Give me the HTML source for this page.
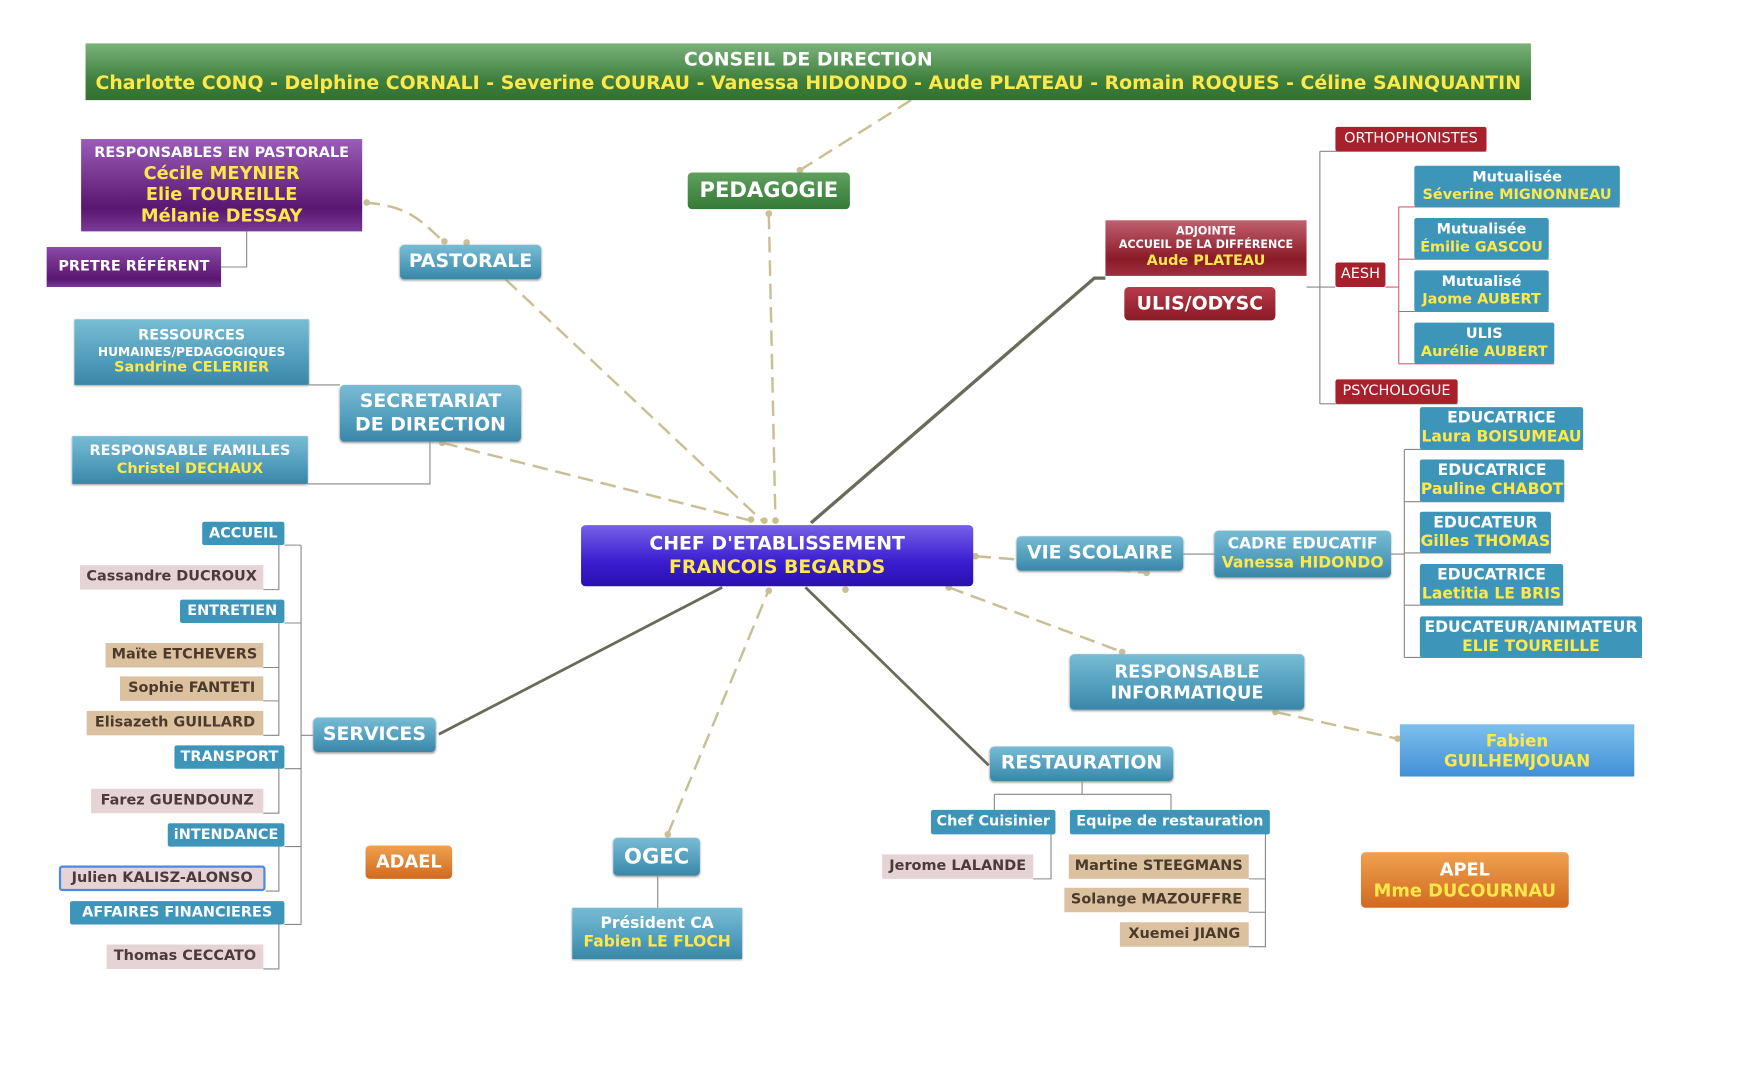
<!DOCTYPE html>
<html><head><meta charset="utf-8"><style>
html,body{margin:0;padding:0;background:#fff;overflow:hidden}
#w{position:absolute;left:0;top:0;width:1568px;height:960px;transform:scale(1.111,1.1125);transform-origin:0 0;font-family:"DejaVu Sans","Liberation Sans",sans-serif;font-weight:bold}
.b{position:absolute;box-sizing:border-box;color:#fff;text-align:center;display:flex;flex-direction:column;justify-content:center;align-items:center;line-height:1.2;border-radius:4px;white-space:nowrap}
.bl{background:linear-gradient(#78bcd4,#4a98b8 70%,#3a86a6);box-shadow:0 1px 2px #999}
.sb{background:#3e95ba;border-radius:2px}
.pk{background:#e6d3d6;color:#4a3a3a;border-radius:0}
.tn{background:#dcc1a0;color:#4a3a2a;border-radius:0}
.rd{background:#a8202c;border-radius:2px;font-weight:normal}
.y{color:#ffe84a}
svg{position:absolute;left:0;top:0}
</style></head><body><div id="w">
<svg width="1568" height="960">
<g stroke="#c9bf95" stroke-width="2.2" stroke-dasharray="14,7" fill="none">
<path d="M820 90 L720 153"/><path d="M692 192 L698 470"/><path d="M455 251 L688 470"/><path d="M398 398 L676 468"/>
<path d="M328 182 C370 185 380 200 400 218"/><path d="M601 750 L692 530"/><path d="M854 528 L1010 586"/>
<path d="M1148 640 L1258 664"/><path d="M878 500 C950 505 1000 512 1032 515"/>
</g>
<g fill="#c9bf95"><circle cx="720" cy="153" r="3"/><circle cx="692" cy="192" r="3"/><circle cx="698" cy="468" r="3"/><circle cx="688" cy="468" r="3"/><circle cx="676" cy="467" r="3"/><circle cx="398" cy="398" r="3"/><circle cx="330" cy="182" r="3"/><circle cx="400" cy="217" r="3"/><circle cx="420" cy="218" r="3"/><circle cx="601" cy="750" r="3"/><circle cx="692" cy="531" r="3"/><circle cx="854" cy="528" r="3"/><circle cx="1010" cy="586" r="3"/><circle cx="1148" cy="640" r="3"/><circle cx="1258" cy="664" r="3"/><circle cx="878" cy="500" r="3"/><circle cx="1032" cy="515" r="3"/><circle cx="761" cy="530" r="3"/></g>
<g stroke="#6b6a5a" fill="none">
<path d="M730 470 L985 250 L995 250" stroke-width="3"/><path d="M650 528 L395 660" stroke-width="2.5"/><path d="M725 528 L890 688" stroke-width="2.5"/>
</g>
<g stroke="#888" stroke-width="1" fill="none">
<path d="M222 208 V240 H199"/><path d="M278 346 H306"/><path d="M387 397 V435 H277"/>
<path d="M271 490 V831 M256 490 H271 M256 560 H271 M256 691 H271 M256 761 H271 M256 831 H271 M271 661 H282"/>
<path d="M251 490 V530 H237 M251 560 V661 H237 M237 600 H251 M237 630 H251 M251 691 V731 H237 M251 761 V801 H239 M251 831 V871 H237"/>
<path d="M592 787 V816"/><path d="M974 702 V714 M895 714 H1054 M895 714 V728 M1054 714 V728"/>
<path d="M946 750 V790 H930 M1139 750 V851 H1124 M1124 790 H1139 M1124 820 H1139"/>
<path d="M1065 498 H1093 M1252 498 H1264 M1264 404 V591 M1264 404 H1425 M1264 451 H1408 M1264 497 H1396 M1264 544 H1407 M1264 591 H1478"/>
<path d="M1176 258 H1188 M1188 136 V363 M1188 136 H1338 M1188 258 H1202 M1188 363 H1312"/>
</g>
<g stroke="#d06070" stroke-width="1" fill="none"><path d="M1247 258 H1259 M1259 186 V327 M1259 186 H1458 M1259 233 H1394 M1259 280 H1394 M1259 327 H1399"/></g>
</svg>

<div class="b" style="left:77px;top:39px;width:1301px;height:51px;background:linear-gradient(#7bb27b,#3e7f3e 65%,#32702f);border-radius:0;font-size:17px"><div>CONSEIL DE DIRECTION</div><div class="y">Charlotte CONQ - Delphine CORNALI - Severine COURAU -  Vanessa HIDONDO - Aude PLATEAU - Romain ROQUES - Céline SAINQUANTIN</div></div>
<div class="b" style="left:73px;top:125px;width:253px;height:83px;background:linear-gradient(#9a5db8,#5a1670 75%,#7a3a98);border-radius:0;font-size:13px"><div>RESPONSABLES EN PASTORALE</div><div class="y" style="font-size:16px">Cécile MEYNIER<br>Elie TOUREILLE<br>Mélanie DESSAY</div></div>
<div class="b" style="left:42px;top:222px;width:157px;height:36px;background:linear-gradient(#8a4aa8,#5a1670 80%,#7a3a98);border-radius:0;font-size:13px">PRETRE RÉFÉRENT</div>
<div class="b" style="left:619px;top:155px;width:146px;height:33px;background:linear-gradient(#5fa05f,#357a35);font-size:19px">PEDAGOGIE</div>
<div class="b bl" style="left:360px;top:220px;width:127px;height:31px;font-size:17px">PASTORALE</div>
<div class="b bl" style="left:67px;top:287px;width:211px;height:59px;border-radius:0;font-size:13px"><div>RESSOURCES</div><div style="font-size:11px">HUMAINES/PEDAGOGIQUES</div><div class="y">Sandrine CELERIER</div></div>
<div class="b bl" style="left:306px;top:346px;width:163px;height:51px;font-size:17px">SECRETARIAT<br>DE DIRECTION</div>
<div class="b bl" style="left:65px;top:392px;width:212px;height:43px;border-radius:0;font-size:13px"><div>RESPONSABLE FAMILLES</div><div class="y">Christel DECHAUX</div></div>

<div class="b sb" style="left:182px;top:469px;width:74px;height:21px;font-size:13px">ACCUEIL</div>
<div class="b pk" style="left:72px;top:508px;width:165px;height:22px;font-size:13px">Cassandre DUCROUX</div>
<div class="b sb" style="left:162px;top:539px;width:94px;height:21px;font-size:13px">ENTRETIEN</div>
<div class="b tn" style="left:95px;top:578px;width:142px;height:22px;font-size:13px">Maïte ETCHEVERS</div>
<div class="b tn" style="left:108px;top:608px;width:129px;height:22px;font-size:13px">Sophie FANTETI</div>
<div class="b tn" style="left:78px;top:639px;width:159px;height:22px;font-size:13px">Elisazeth GUILLARD</div>
<div class="b sb" style="left:157px;top:670px;width:99px;height:21px;font-size:13px">TRANSPORT</div>
<div class="b pk" style="left:82px;top:709px;width:155px;height:22px;font-size:13px">Farez GUENDOUNZ</div>
<div class="b sb" style="left:151px;top:740px;width:105px;height:21px;font-size:13px">iNTENDANCE</div>
<div class="b pk" style="left:53px;top:778px;width:186px;height:23px;font-size:13px;border:2px solid #4a8ae0;border-radius:3px">Julien KALISZ-ALONSO</div>
<div class="b sb" style="left:63px;top:810px;width:193px;height:21px;font-size:13px">AFFAIRES FINANCIERES</div>
<div class="b pk" style="left:96px;top:849px;width:141px;height:22px;font-size:13px">Thomas CECCATO</div>

<div class="b bl" style="left:282px;top:645px;width:110px;height:31px;font-size:17px">SERVICES</div>
<div class="b" style="left:329px;top:760px;width:78px;height:30px;background:linear-gradient(#f0a050,#d06a20);font-size:16px">ADAEL</div>
<div class="b bl" style="left:552px;top:753px;width:78px;height:34px;font-size:19px">OGEC</div>
<div class="b bl" style="left:515px;top:816px;width:153px;height:46px;border-radius:0;font-size:14px"><div>Président CA</div><div class="y">Fabien LE FLOCH</div></div>
<div class="b" style="left:523px;top:472px;width:353px;height:55px;background:linear-gradient(#7660e8,#3a1ed0 60%,#2a0fb0);font-size:17px"><div>CHEF D'ETABLISSEMENT</div><div class="y">FRANCOIS BEGARDS</div></div>

<div class="b bl" style="left:915px;top:482px;width:150px;height:31px;font-size:17px">VIE SCOLAIRE</div>
<div class="b bl" style="left:1093px;top:477px;width:159px;height:42px;font-size:14px"><div>CADRE EDUCATIF</div><div class="y">Vanessa HIDONDO</div></div>
<div class="b sb" style="left:1278px;top:366px;width:147px;height:38px;font-size:14px"><div>EDUCATRICE</div><div class="y">Laura BOISUMEAU</div></div>
<div class="b sb" style="left:1278px;top:413px;width:130px;height:38px;font-size:14px"><div>EDUCATRICE</div><div class="y">Pauline CHABOT</div></div>
<div class="b sb" style="left:1278px;top:460px;width:118px;height:37px;font-size:14px"><div>EDUCATEUR</div><div class="y">Gilles THOMAS</div></div>
<div class="b sb" style="left:1278px;top:507px;width:129px;height:37px;font-size:14px"><div>EDUCATRICE</div><div class="y">Laetitia LE BRIS</div></div>
<div class="b sb" style="left:1278px;top:554px;width:200px;height:37px;font-size:14px"><div>EDUCATEUR/ANIMATEUR</div><div class="y">ELIE TOUREILLE</div></div>

<div class="b" style="left:995px;top:198px;width:181px;height:50px;background:linear-gradient(#c06070,#8a1a26 70%,#a03040);border-radius:0;font-size:10px"><div>ADJOINTE</div><div>ACCUEIL DE LA DIFFÉRENCE</div><div class="y" style="font-size:13px">Aude PLATEAU</div></div>
<div class="b" style="left:1012px;top:258px;width:136px;height:30px;background:linear-gradient(#b83a48,#8a1a26);font-size:17px">ULIS/ODYSC</div>
<div class="b rd" style="left:1202px;top:114px;width:136px;height:22px;font-size:13px">ORTHOPHONISTES</div>
<div class="b rd" style="left:1202px;top:236px;width:45px;height:22px;font-size:13px">AESH</div>
<div class="b rd" style="left:1202px;top:341px;width:110px;height:22px;font-size:13px">PSYCHOLOGUE</div>
<div class="b sb" style="left:1273px;top:149px;width:185px;height:37px;font-size:13px"><div>Mutualisée</div><div class="y">Séverine MIGNONNEAU</div></div>
<div class="b sb" style="left:1273px;top:196px;width:121px;height:37px;font-size:13px"><div>Mutualisée</div><div class="y">Émilie GASCOU</div></div>
<div class="b sb" style="left:1273px;top:243px;width:121px;height:37px;font-size:13px"><div>Mutualisé</div><div class="y">Jaome AUBERT</div></div>
<div class="b sb" style="left:1273px;top:290px;width:126px;height:37px;font-size:13px"><div>ULIS</div><div class="y">Aurélie AUBERT</div></div>

<div class="b bl" style="left:963px;top:588px;width:211px;height:50px;font-size:16px">RESPONSABLE<br>INFORMATIQUE</div>
<div class="b" style="left:1260px;top:651px;width:211px;height:47px;background:linear-gradient(#7ec0ee,#3f8fd6);border-radius:0;font-size:15px"><div class="y">Fabien</div><div class="y">GUILHEMJOUAN</div></div>
<div class="b bl" style="left:891px;top:671px;width:165px;height:31px;font-size:17px">RESTAURATION</div>
<div class="b sb" style="left:838px;top:728px;width:112px;height:22px;font-size:13px">Chef Cuisinier</div>
<div class="b sb" style="left:963px;top:728px;width:180px;height:22px;font-size:13px">Equipe de restauration</div>
<div class="b pk" style="left:794px;top:768px;width:136px;height:22px;font-size:13px">Jerome LALANDE</div>
<div class="b tn" style="left:962px;top:768px;width:162px;height:22px;font-size:13px">Martine STEEGMANS</div>
<div class="b tn" style="left:958px;top:798px;width:166px;height:22px;font-size:13px">Solange MAZOUFFRE</div>
<div class="b tn" style="left:1008px;top:829px;width:116px;height:22px;font-size:13px">Xuemei JIANG</div>
<div class="b" style="left:1225px;top:766px;width:187px;height:50px;background:linear-gradient(#f0a050,#d06a20);font-size:16px"><div>APEL</div><div class="y">Mme DUCOURNAU</div></div>
</div></body></html>
